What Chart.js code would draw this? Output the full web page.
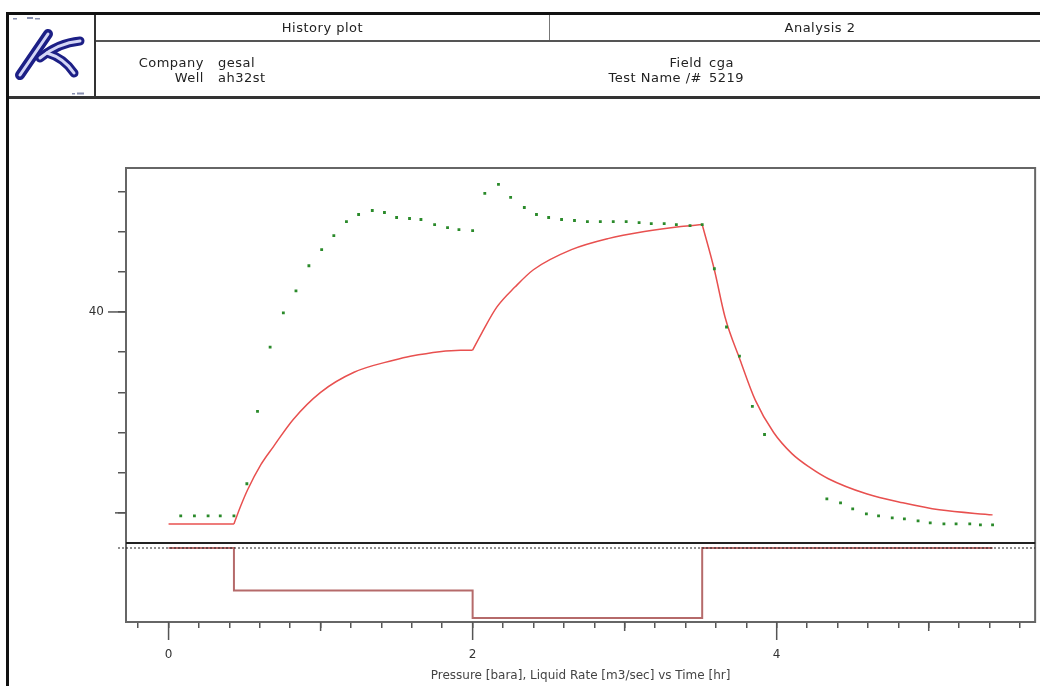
<!DOCTYPE html>
<html>
<head>
<meta charset="utf-8">
<script src="https://cdn.jsdelivr.net/npm/chart.js@4.4.1/dist/chart.umd.min.js"></script>
<style>
  body { margin:0; background:#fff; width:1040px; height:686px; overflow:hidden; position:relative; font-family:"DejaVu Sans", sans-serif; color:#222; }
  #wrap { position:absolute; left:0; top:0; width:1040px; height:686px; }
  .ln { position:absolute; background:#111; }
  .txt { position:absolute; font-size:13px; letter-spacing:0.5px; white-space:nowrap; line-height:15px; }
  .r { text-align:right; }
</style>
</head>
<body>
<div id="wrap"><canvas id="historyChart"></canvas></div>

<!-- header block -->
<div class="ln" style="left:6px;top:12px;width:1034px;height:3px;"></div>
<div class="ln" style="left:6px;top:12px;width:3px;height:674px;"></div>
<div class="ln" style="left:94px;top:15px;width:2px;height:82px;background:#333;"></div>
<div class="ln" style="left:96px;top:40px;width:944px;height:2px;background:#555;"></div>
<div class="ln" style="left:549px;top:15px;width:1px;height:25px;background:#777;"></div>
<div class="ln" style="left:9px;top:96px;width:1031px;height:3px;background:#333;"></div>

<svg style="position:absolute;left:9px;top:15px" width="85" height="81" viewBox="9 15 85 81">
  <g fill="none" stroke-linecap="round">
    <path d="M20 75 L48 34" stroke="#1c1f86" stroke-width="10"/>
    <path d="M40 58 Q58 43 80 41" stroke="#1c1f86" stroke-width="9"/>
    <path d="M47 53 Q64 58 74 73" stroke="#1c1f86" stroke-width="9"/>
    <path d="M20 75 L48 34" stroke="#d4d6f6" stroke-width="3"/>
    <path d="M40 58 Q58 43 80 41" stroke="#d4d6f6" stroke-width="3"/>
    <path d="M47 53 Q64 58 74 73" stroke="#d4d6f6" stroke-width="3"/>
  </g>
  <rect x="13" y="18" width="4" height="1.5" fill="#8890b0"/>
  <rect x="27" y="17" width="6" height="2" fill="#8890b0"/>
  <rect x="35" y="18" width="5" height="1.5" fill="#8890b0"/>
  <rect x="72" y="93" width="3" height="1.5" fill="#8890b0"/>
  <rect x="77" y="92.5" width="7" height="2" fill="#8890b0"/>
</svg>

<div class="txt" style="left:96px;width:453px;top:20px;text-align:center;">History plot</div>
<div class="txt" style="left:600px;width:440px;top:20px;text-align:center;">Analysis 2</div>
<div class="txt r" style="right:836px;top:55px;">Company</div>
<div class="txt" style="left:218px;top:55px;">gesal</div>
<div class="txt r" style="right:836px;top:70px;">Well</div>
<div class="txt" style="left:218px;top:70px;">ah32st</div>
<div class="txt r" style="right:338px;top:55px;">Field</div>
<div class="txt" style="left:709px;top:55px;">cga</div>
<div class="txt r" style="right:338px;top:70px;">Test Name /#</div>
<div class="txt" style="left:709px;top:70px;">5219</div>

<script>
// measured pressure (green points)
const measTime = [0.08,0.17,0.26,0.34,0.43,0.515,0.585,0.668,0.755,0.838,0.923,1.007,1.087,1.17,1.25,1.34,1.42,1.50,1.585,1.66,1.75,1.835,1.91,2.0,
  2.08,2.17,2.25,2.34,2.42,2.50,2.585,2.67,2.755,2.84,2.925,3.01,3.095,3.175,3.26,3.34,3.43,3.51,3.59,3.67,3.755,3.84,3.92,
  4.33,4.42,4.50,4.59,4.67,4.76,4.84,4.93,5.01,5.10,5.18,5.27,5.34,5.42];
const measPressure = [19.7,19.7,19.7,19.7,19.7,22.9,30.1,36.5,39.9,42.1,44.6,46.2,47.6,49.0,49.7,50.1,49.9,49.4,49.3,49.2,48.7,48.4,48.2,48.1,
  51.8,52.7,51.4,50.4,49.7,49.4,49.2,49.1,49.0,49.0,49.0,49.0,48.9,48.8,48.8,48.7,48.6,48.7,44.3,38.5,35.6,30.6,27.8,
  21.4,21.0,20.4,19.9,19.7,19.5,19.4,19.2,19.0,18.9,18.9,18.9,18.8,18.8];

// simulated pressure (red curve)
const simTime = [0,0.43,0.475,0.52,0.607,0.69,0.82,1.0,1.22,1.48,1.59,1.92,2.0,2.06,2.16,2.28,2.40,2.65,2.89,3.13,3.37,3.51,
  3.59,3.66,3.76,3.86,3.98,4.10,4.22,4.34,4.59,4.83,5.07,5.42];
const simPressure = [18.9,18.9,20.7,22.3,24.8,26.6,29.3,32.0,34.0,35.2,35.6,36.2,36.2,37.9,40.5,42.5,44.2,46.2,47.3,48.0,48.5,48.7,
  44.2,39.5,35.2,31.2,28.0,25.9,24.5,23.4,21.9,21.0,20.3,19.8];

// liquid rate history (lower panel)
const rateTime = [0, 0.43, 2.0, 3.51, 5.42];
const rateValue = [0, 0.0085, 0.014, 0, 0];

const xLabelTicks = [0, 2, 4];
const xMidTicks = [1, 3, 5];
const yLabelTicks = [40];
const yMidTicks = [20];

const pts = (xs, ys) => xs.map((t, i) => ({x: t, y: ys[i]}));
const near = (v, list) => list.some(l => Math.abs(v - l) < 1e-6);

// one simulated curve per flow period, so the response has sharp corners at rate changes
const simAll = pts(simTime, simPressure);
const simPeriods = [];
for (let k = 0; k < rateTime.length - 1; k++) {
  simPeriods.push(simAll.filter(p => p.x >= rateTime[k] - 1e-9 && p.x <= rateTime[k + 1] + 1e-9));
}

Chart.defaults.font.family = '"DejaVu Sans", sans-serif';
Chart.defaults.font.size = 12;
Chart.defaults.color = '#333';

const frame = {
  id: 'frame',
  afterDraw(chart) {
    const {ctx, chartArea: a, scales: {x, y, y2}} = chart;
    ctx.save();
    ctx.strokeStyle = '#666';
    ctx.lineWidth = 2;
    ctx.strokeRect(a.left, a.top, a.right - a.left, a.bottom - a.top);
    // separator between pressure and rate panels
    ctx.strokeStyle = '#222';
    ctx.beginPath(); ctx.moveTo(a.left, y.bottom); ctx.lineTo(a.right, y.bottom); ctx.stroke();
    // zero-rate dotted line
    const z = y2.getPixelForValue(0);
    ctx.setLineDash([2, 2]); ctx.lineWidth = 1.2;
    ctx.beginPath(); ctx.moveTo(a.left - 8, z); ctx.lineTo(a.right, z); ctx.stroke();
    ctx.setLineDash([]);
    // longer ticks
    ctx.strokeStyle = '#555'; ctx.lineWidth = 1.5;
    xLabelTicks.forEach(v => { const p = x.getPixelForValue(v); ctx.beginPath(); ctx.moveTo(p, a.bottom); ctx.lineTo(p, a.bottom + 18); ctx.stroke(); });
    xMidTicks.forEach(v => { const p = x.getPixelForValue(v); ctx.beginPath(); ctx.moveTo(p, a.bottom); ctx.lineTo(p, a.bottom + 9); ctx.stroke(); });
    yLabelTicks.forEach(v => { const p = y.getPixelForValue(v); ctx.beginPath(); ctx.moveTo(a.left, p); ctx.lineTo(a.left - 18, p); ctx.stroke(); });
    yMidTicks.forEach(v => { const p = y.getPixelForValue(v); ctx.beginPath(); ctx.moveTo(a.left, p); ctx.lineTo(a.left - 11, p); ctx.stroke(); });
    ctx.restore();
  }
};

const simStyle = {
  type: 'line', yAxisID: 'y', borderColor: '#e8504f', borderWidth: 1.5,
  pointRadius: 0, cubicInterpolationMode: 'monotone', fill: false, order: 1
};

new Chart(document.getElementById('historyChart'), {
  type: 'scatter',
  data: {
    datasets: [{
      label: 'Measured pressure',
      data: pts(measTime, measPressure),
      yAxisID: 'y',
      pointStyle: 'rect',
      pointRadius: 2,
      backgroundColor: '#2a8a2a',
      borderColor: '#2a8a2a',
      borderWidth: 0,
      order: 0
    },
    ...simPeriods.map((d, k) => Object.assign({ label: 'Simulated pressure ' + (k + 1), data: d }, simStyle)),
    {
      label: 'Liquid rate',
      type: 'line',
      data: pts(rateTime, rateValue),
      yAxisID: 'y2',
      stepped: true,
      borderColor: '#b56a6a',
      borderWidth: 2,
      pointRadius: 0,
      fill: false,
      order: 2
    }]
  },
  options: {
    responsive: true, maintainAspectRatio: false, animation: false,
    layout: { padding: { left: 60, top: 168, right: 4, bottom: 0 } },
    plugins: { legend: { display: false }, tooltip: { enabled: false } },
    scales: {
      x: {
        type: 'linear', min: -0.28, max: 5.70,
        afterFit(s) { s.height = 64; },
        border: { display: false },
        grid: { drawOnChartArea: false, tickLength: 6, color: '#555', lineWidth: 1.5 },
        ticks: { stepSize: 0.2, includeBounds: false, autoSkip: false, maxRotation: 0, padding: 20, color: '#333',
                 callback: v => near(v, xLabelTicks) ? String(Math.round(v)) : '' },
        title: { display: true, text: 'Pressure [bara], Liquid Rate [m3/sec] vs Time [hr]', color: '#444',
                 font: { size: 12 }, padding: { top: 0, bottom: 3 } }
      },
      y2: {
        type: 'linear', position: 'left', stack: 'panels', stackWeight: 79,
        reverse: true, min: -0.001, max: 0.0148,
        afterFit(s) { s.width = 66; },
        border: { display: false },
        grid: { display: false },
        ticks: { display: false }
      },
      y: {
        type: 'linear', position: 'left', stack: 'panels', stackWeight: 375,
        min: 17, max: 54.33,
        afterFit(s) { s.width = 66; },
        border: { display: false },
        grid: { drawOnChartArea: false, tickLength: 8, color: '#555', lineWidth: 1.5 },
        ticks: { stepSize: 4, includeBounds: false, padding: 14, color: '#333',
                 callback: v => near(v, yLabelTicks) ? String(v) : '' }
      }
    }
  },
  plugins: [frame]
});
</script>
</body>
</html>
